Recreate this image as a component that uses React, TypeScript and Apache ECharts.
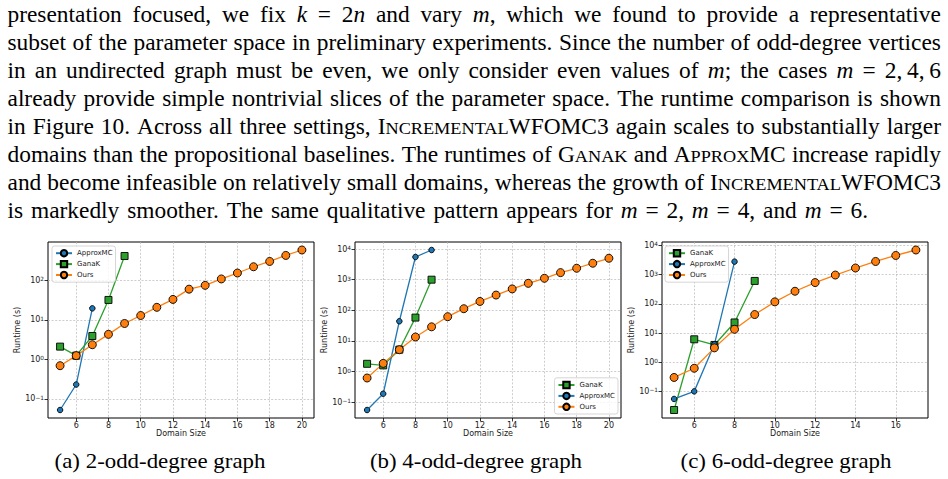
import React, { useEffect, useRef } from "react";
import * as echarts from "echarts";

// ---------------- data ----------------
// (a) 2-odd-degree graph
const approxDomain1 = [5, 6, 7];
const approxRuntime1 = [0.052, 0.23, 19.6];
const ganakDomain1 = [5, 6, 7, 8, 9];
const ganakRuntime1 = [2.1, 1.24, 3.9, 32, 415];
const oursDomain1 = [5, 6, 7, 8, 9, 10, 11, 12, 13, 14, 15, 16, 17, 18, 19, 20];
const oursRuntime1 = [0.69, 1.24, 2.35, 4.3, 8.1, 12.9, 20.8, 33, 60, 75, 109, 154, 222, 303, 430, 590];

// (b) 4-odd-degree graph
const ganakDomain2 = [5, 6, 7, 8, 9];
const ganakRuntime2 = [1.8, 1.6, 5.2, 58, 1000];
const approxDomain2 = [5, 6, 7, 8, 9];
const approxRuntime2 = [0.056, 0.19, 44, 5500, 9300];
const oursDomain2 = [5, 6, 7, 8, 9, 10, 11, 12, 13, 14, 15, 16, 17, 18, 19, 20];
const oursRuntime2 = [0.62, 1.86, 5.2, 13.5, 29, 62, 113, 195, 315, 500, 760, 1110, 1700, 2360, 3440, 5000];

// (c) 6-odd-degree graph
const ganakDomain3 = [5, 6, 7, 8, 9];
const ganakRuntime3 = [0.023, 6.1, 3.9, 23, 610];
const approxDomain3 = [5, 6, 7, 8];
const approxRuntime3 = [0.055, 0.1, 4.1, 2800];
const oursDomain3 = [5, 6, 7, 8, 9, 10, 11, 12, 13, 14, 15, 16, 17];
const oursRuntime3 = [0.3, 0.62, 3.1, 13.4, 43, 117, 270, 535, 970, 1690, 2830, 4550, 7000];

const captions = ["(a) 2-odd-degree graph", "(b) 4-odd-degree graph", "(c) 6-odd-degree graph"];
const xAxisTitle = "Domain Size";
const yAxisTitle = "Runtime (s)";
const legendOrder1 = ["ApproxMC", "GanaK", "Ours"];
const legendOrder2 = ["GanaK", "ApproxMC", "Ours"];
const legendOrder3 = ["GanaK", "ApproxMC", "Ours"];

// *x* = italic (math), [XYZ] = small capitals
const paragraphLines = [
  "presentation focused, we fix *k* = 2*n* and vary *m*, which we found to provide a representative",
  "subset of the parameter space in preliminary experiments. Since the number of odd-degree vertices",
  "in an undirected graph must be even, we only consider even values of *m*; the cases *m* = 2,\u20094,\u20096",
  "already provide simple nontrivial slices of the parameter space. The runtime comparison is shown",
  "in Figure 10. Across all three settings, I[NCREMENTAL]WFOMC3 again scales to substantially larger",
  "domains than the propositional baselines. The runtimes of G[ANAK] and A[PPROX]MC increase rapidly",
  "and become infeasible on relatively small domains, whereas the growth of I[NCREMENTAL]WFOMC3",
  "is markedly smoother. The same qualitative pattern appears for *m* = 2, *m* = 4, and *m* = 6.",
];

// ---------------- styling / layout ----------------
const SERIES_STYLE: Record<string, any> = {
  ApproxMC: { color: "#1f77b4", symbol: "circle", size: 5.5 },
  GanaK: { color: "#2ca02c", symbol: "rect", size: 7 },
  Ours: { color: "#ff7f0e", symbol: "circle", size: 8 },
};
const GRID_LEFTS = [48, 355, 662];
const GRID_TOP = 242;
const GRID_W = 266;
const GRID_H = 176;
const CAPTION_X = [160, 476, 786];
const CAPTION_BASELINE = 468;
const CAPTION_FS = 22;
const SANS = "DejaVu Sans";
const SERIF = '"Liberation Serif", "Times New Roman", serif';
const FS = 22.5;
const SX = 1.04;
const TEXT_X0 = 7.5;
const TEXT_X1 = 941;
const LAST_LINE_END = 868;
const TEXT_BASE0 = 22;
const TEXT_LH = 28;
const TICK_COLOR = "#222";

function expLabel(v: number): string {
  const e = Math.log10(v);
  const r = Math.round(e);
  if (Math.abs(e - r) > 1e-6) return "";
  const s = r < 0 ? "\u2212" + String(-r) : String(r);
  return `{b|10}{e|${s}}`;
}

function parseWord(w: string) {
  const segs: { t: string; k: string }[] = [];
  const re = /(\*[^*]+\*|\[[^\]]+\])/g;
  let last = 0;
  let m: RegExpExecArray | null;
  while ((m = re.exec(w))) {
    if (m.index > last) segs.push({ t: w.slice(last, m.index), k: "n" });
    const s = m[0];
    segs.push({ t: s.slice(1, -1), k: s[0] === "*" ? "i" : "sc" });
    last = m.index + s.length;
  }
  if (last < w.length) segs.push({ t: w.slice(last), k: "n" });
  return segs;
}

function buildText(): any[] {
  const canvas = document.createElement("canvas");
  const ctx = canvas.getContext("2d") as CanvasRenderingContext2D;
  const segFont = (k: string) => {
    if (k === "i") return { style: "italic", size: FS };
    if (k === "sc") return { style: "normal", size: FS * 0.78 };
    return { style: "normal", size: FS };
  };
  const measure = (t: string, k: string) => {
    const f = segFont(k);
    ctx.font = `${f.style} ${f.size}px ${SERIF}`;
    return ctx.measureText(t).width * SX;
  };
  const els: any[] = [];
  paragraphLines.forEach((line, li) => {
    const words = line.split(" ").map(parseWord);
    const widths = words.map((segs) => segs.reduce((a, s) => a + measure(s.t, s.k), 0));
    const total = widths.reduce((a, b) => a + b, 0);
    const isLast = li === paragraphLines.length - 1;
    const right = isLast ? LAST_LINE_END : TEXT_X1;
    const gap = (right - TEXT_X0 - total) / (words.length - 1);
    const baseline = TEXT_BASE0 + li * TEXT_LH;
    let x = TEXT_X0;
    words.forEach((segs) => {
      segs.forEach((s) => {
        const f = segFont(s.k);
        els.push({
          type: "text",
          x,
          y: baseline - 0.3375 * f.size,
          scaleX: SX,
          silent: true,
          style: {
            text: s.t,
            fontFamily: SERIF,
            fontSize: f.size,
            fontStyle: f.style,
            fill: "#000",
            align: "left",
            verticalAlign: "middle",
          },
        });
        x += measure(s.t, s.k);
      });
      x += gap;
    });
  });
  captions.forEach((c, i) => {
    els.push({
      type: "text",
      x: CAPTION_X[i],
      y: CAPTION_BASELINE - 0.3375 * CAPTION_FS,
      scaleX: SX,
      silent: true,
      style: {
        text: c,
        fontFamily: SERIF,
        fontSize: CAPTION_FS,
        fill: "#000",
        align: "center",
        verticalAlign: "middle",
      },
    });
  });
  return els;
}

type PanelSeries = { name: string; x: number[]; y: number[] };

const panels: { series: PanelSeries[]; legendOrder: string[]; legendPos: any }[] = [
  {
    series: [
      { name: "ApproxMC", x: approxDomain1, y: approxRuntime1 },
      { name: "GanaK", x: ganakDomain1, y: ganakRuntime1 },
      { name: "Ours", x: oursDomain1, y: oursRuntime1 },
    ],
    legendOrder: legendOrder1,
    legendPos: { left: 52, top: 246 },
  },
  {
    series: [
      { name: "GanaK", x: ganakDomain2, y: ganakRuntime2 },
      { name: "ApproxMC", x: approxDomain2, y: approxRuntime2 },
      { name: "Ours", x: oursDomain2, y: oursRuntime2 },
    ],
    legendOrder: legendOrder2,
    legendPos: { right: 330, bottom: 65 },
  },
  {
    series: [
      { name: "GanaK", x: ganakDomain3, y: ganakRuntime3 },
      { name: "ApproxMC", x: approxDomain3, y: approxRuntime3 },
      { name: "Ours", x: oursDomain3, y: oursRuntime3 },
    ],
    legendOrder: legendOrder3,
    legendPos: { left: 665, top: 246 },
  },
];

function buildOption(): any {
  const grid: any[] = [];
  const xAxis: any[] = [];
  const yAxis: any[] = [];
  const legend: any[] = [];
  const series: any[] = [];
  const splitStyle = { color: "#b8b8b8", type: [2, 1.6], width: 0.7 };
  const tickStyle = { color: "#000", width: 0.8 };
  const labelStyle = { fontFamily: SANS, fontSize: 8, color: TICK_COLOR };

  panels.forEach((p, i) => {
    const xs = p.series.flatMap((s) => s.x);
    const ys = p.series.flatMap((s) => s.y).map((v) => Math.log10(v));
    const xmin = Math.min(...xs), xmax = Math.max(...xs);
    const ymin = Math.min(...ys), ymax = Math.max(...ys);
    const xp = (xmax - xmin) * 0.05;
    const yp = (ymax - ymin) * 0.05;

    grid.push({
      left: GRID_LEFTS[i],
      top: GRID_TOP,
      width: GRID_W,
      height: GRID_H,
      show: true,
      borderColor: "#000",
      borderWidth: 1,
      backgroundColor: "transparent",
    });
    xAxis.push({
      type: "value",
      gridIndex: i,
      min: xmin - xp,
      max: xmax + xp,
      splitNumber: Math.round((xmax - xmin + 2 * xp) / 2),
      name: xAxisTitle,
      nameLocation: "middle",
      nameGap: 11,
      nameTextStyle: { fontFamily: SANS, fontSize: 8, color: TICK_COLOR },
      axisLine: { show: false },
      axisTick: { show: true, inside: false, length: 3.5, lineStyle: tickStyle },
      axisLabel: { ...labelStyle, margin: 3, showMinLabel: false, showMaxLabel: false },
      splitLine: { show: true, showMinLine: false, showMaxLine: false, lineStyle: splitStyle },
    });
    yAxis.push({
      type: "log",
      logBase: 10,
      gridIndex: i,
      min: Math.pow(10, ymin - yp),
      max: Math.pow(10, ymax + yp),
      name: yAxisTitle,
      nameLocation: "middle",
      nameGap: 19,
      nameTextStyle: { fontFamily: SANS, fontSize: 8, color: TICK_COLOR },
      axisLine: { show: false },
      axisTick: { show: true, inside: false, length: 3.5, lineStyle: tickStyle },
      axisLabel: {
        margin: 4,
        showMinLabel: false,
        showMaxLabel: false,
        formatter: (v: number) => expLabel(v),
        rich: {
          b: {
            fontFamily: SANS, fontSize: 8, color: TICK_COLOR,
            lineHeight: 8, padding: [2.5, 0, 0, 0], verticalAlign: "bottom",
          },
          e: {
            fontFamily: SANS, fontSize: 5.8, color: TICK_COLOR,
            lineHeight: 6, verticalAlign: "top",
          },
        },
      },
      splitLine: { show: true, showMinLine: false, showMaxLine: false, lineStyle: splitStyle },
    });
    legend.push({
      ...p.legendPos,
      orient: "vertical",
      data: p.legendOrder,
      selectedMode: false,
      itemWidth: 16,
      itemHeight: 8,
      itemGap: 2.5,
      padding: [3, 3, 3, 3],
      textStyle: { fontFamily: SANS, fontSize: 7, color: TICK_COLOR },
      backgroundColor: "rgba(255,255,255,0.8)",
      borderColor: "#cccccc",
      borderWidth: 0.8,
      borderRadius: 2.5,
    });
    p.series.forEach((s) => {
      const st = SERIES_STYLE[s.name];
      series.push({
        type: "line",
        name: s.name,
        xAxisIndex: i,
        yAxisIndex: i,
        data: s.x.map((x, k) => [x, s.y[k]]),
        symbol: st.symbol,
        symbolSize: st.size,
        showAllSymbol: true,
        itemStyle: { color: st.color, borderColor: "#000", borderWidth: 0.9 },
        lineStyle: { color: st.color, width: 1.3 },
        emphasis: { disabled: true },
      });
    });
  });

  return {
    animation: false,
    backgroundColor: "#fff",
    grid,
    xAxis,
    yAxis,
    legend,
    series,
    graphic: { elements: buildText() },
  };
}

export default function App() {
  const ref = useRef<HTMLDivElement>(null);
  useEffect(() => {
    if (!ref.current) return;
    const chart = echarts.init(ref.current, undefined, { renderer: "svg" });
    chart.setOption(buildOption());
    return () => chart.dispose();
  }, []);
  return (
    <div
      ref={ref}
      style={{ position: "absolute", left: 0, top: 0, width: 948, height: 479, background: "#fff" }}
    />
  );
}
